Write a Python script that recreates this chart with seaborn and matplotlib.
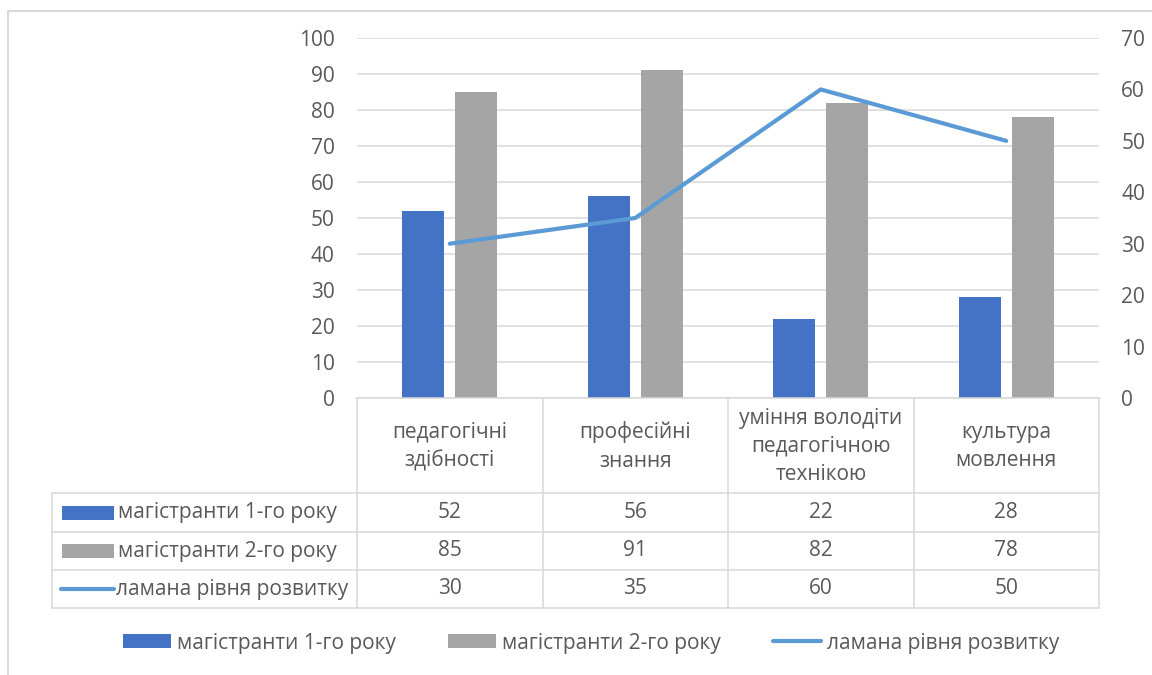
import matplotlib
matplotlib.use("Agg")
import matplotlib.pyplot as plt
import matplotlib.transforms as mtransforms
from matplotlib.patches import Rectangle
from matplotlib.lines import Line2D
import seaborn as sns
import pandas as pd

# ---- data ----
categories = ["педагогічні\nздібності", "професійні\nзнання",
              "уміння володіти\nпедагогічною\nтехнікою", "культура\nмовлення"]
series_names = ["магістранти 1-го року", "магістранти 2-го року", "ламана рівня розвитку"]
year1 = [52, 56, 22, 28]
year2 = [85, 91, 82, 78]
level = [30, 35, 60, 50]
left_ticks = [0, 10, 20, 30, 40, 50, 60, 70, 80, 90, 100]
right_ticks = [0, 10, 20, 30, 40, 50, 60, 70]

BLUE = "#4472C4"
GRAY = "#A5A5A5"
LINE = "#5B9BD5"
TXT = "#595959"
GRID = "#D9D9D9"
FS = 15

W, H = 1152, 675
sns.set_theme(style="white")
plt.rcParams['font.family'] = ['Open Sans', 'DejaVu Sans']

fig = plt.figure(figsize=(W / 100, H / 100), dpi=100)
fig.patch.set_facecolor("white")


def fx(x):
    return x / W


def fy(y):
    return 1 - y / H


# plot area
ax = fig.add_axes([fx(357), fy(398), fx(1099) - fx(357), fy(38) - fy(398)])
df = pd.DataFrame({
    "cat": categories * 2,
    "series": [series_names[0]] * len(categories) + [series_names[1]] * len(categories),
    "value": year1 + year2,
})
sns.barplot(data=df, x="cat", y="value", hue="series", order=categories,
            hue_order=series_names[:2], palette=[BLUE, GRAY], width=0.57, gap=0.2,
            saturation=1, linewidth=0, ax=ax, legend=False, errorbar=None)
ax.set_xlim(-0.5, len(categories) - 0.5)
ax.set_ylim(0, 100)
ax.set_yticks(left_ticks)
ax.set_yticklabels([str(t) for t in left_ticks], color=TXT, fontsize=FS)
ax.set_xticks([])
ax.set_xlabel("")
ax.set_ylabel("")
ax.tick_params(axis="y", length=0, pad=16)
ax.grid(axis="y", color=GRID, linewidth=1.1)
ax.set_axisbelow(True)
for s in ["top", "left", "right"]:
    ax.spines[s].set_visible(False)
ax.spines["bottom"].set_color(GRID)
ax.spines["bottom"].set_linewidth(1.1)

# secondary axis with the line
ax2 = ax.twinx()
dfl = pd.DataFrame({"pos": list(range(len(categories))), "value": level})
sns.lineplot(data=dfl, x="pos", y="value", color=LINE, linewidth=3.0, ax=ax2,
             solid_capstyle="round", solid_joinstyle="round")
ax2.set_ylim(0, 70)
ax2.set_yticks(right_ticks)
ax2.set_yticklabels([str(t) for t in right_ticks], color=TXT, fontsize=FS)
ax2.tick_params(axis="y", length=0, pad=16)
ax2.set_xlabel("")
ax2.set_ylabel("")
for s in ["top", "left", "right", "bottom"]:
    ax2.spines[s].set_visible(False)
ax2.set_xlim(-0.5, len(categories) - 0.5)

# ---- data table ----
blend = mtransforms.blended_transform_factory(ax.transData, fig.transFigure)
row_edges = [398, 493, 532, 570, 608]
left_x = 52
n = len(categories)
lkw = dict(color=GRID, linewidth=1.1)
for i in range(n + 1):
    fig.add_artist(Line2D([i - 0.5, i - 0.5], [fy(row_edges[0]), fy(row_edges[-1])],
                          transform=blend, **lkw))
for y in row_edges[1:]:
    fig.add_artist(Line2D([fx(left_x), fx(357)], [fy(y), fy(y)], transform=fig.transFigure, **lkw))
    fig.add_artist(Line2D([-0.5, n - 0.5], [fy(y), fy(y)], transform=blend, **lkw))
fig.add_artist(Line2D([fx(left_x), fx(left_x)], [fy(row_edges[1]), fy(row_edges[-1])],
                      transform=fig.transFigure, **lkw))

# header
hc = (row_edges[0] + row_edges[1]) / 2 + 1
for i, c in enumerate(categories):
    fig.text(i, fy(hc), c, transform=blend, ha="center", va="center",
             fontsize=FS, color=TXT, linespacing=1.45)

rows = [year1, year2, level]
for r, vals in enumerate(rows):
    yc = (row_edges[r + 1] + row_edges[r + 2]) / 2
    for i, v in enumerate(vals):
        fig.text(i, fy(yc), str(v), transform=blend, ha="center", va="center",
                 fontsize=FS, color=TXT)
    if r < 2:
        fig.add_artist(Rectangle((fx(62), fy(yc + 7)), fx(114) - fx(62), fy(yc - 7) - fy(yc + 7),
                                 transform=fig.transFigure, color=[BLUE, GRAY][r], lw=0))
        tx = 118
    else:
        fig.add_artist(Line2D([fx(61), fx(114)], [fy(yc), fy(yc)], transform=fig.transFigure,
                              color=LINE, linewidth=3.0, solid_capstyle="round"))
        tx = 116
    fig.text(fx(tx), fy(yc), series_names[r], ha="left", va="center",
             fontsize=FS, color=TXT)

# ---- bottom legend ----
handles = [Rectangle((0, 0), 1, 1, color=BLUE, lw=0),
           Rectangle((0, 0), 1, 1, color=GRAY, lw=0),
           Line2D([0], [0], color=LINE, linewidth=3.0, solid_capstyle="round")]
fig.legend(handles, series_names, loc="center", bbox_to_anchor=(fx(591), fy(643)),
           ncol=3, frameon=False, fontsize=FS, labelcolor=TXT,
           handlelength=2.3, handleheight=0.65, handletextpad=0.3, columnspacing=2.5)

# chart border
fig.add_artist(Line2D([fx(8), fx(8), fx(1152)], [fy(675), fy(11), fy(11)],
                      transform=fig.transFigure, color=GRID, linewidth=1.5))

fig.savefig("out.png", dpi=100, facecolor="white")
